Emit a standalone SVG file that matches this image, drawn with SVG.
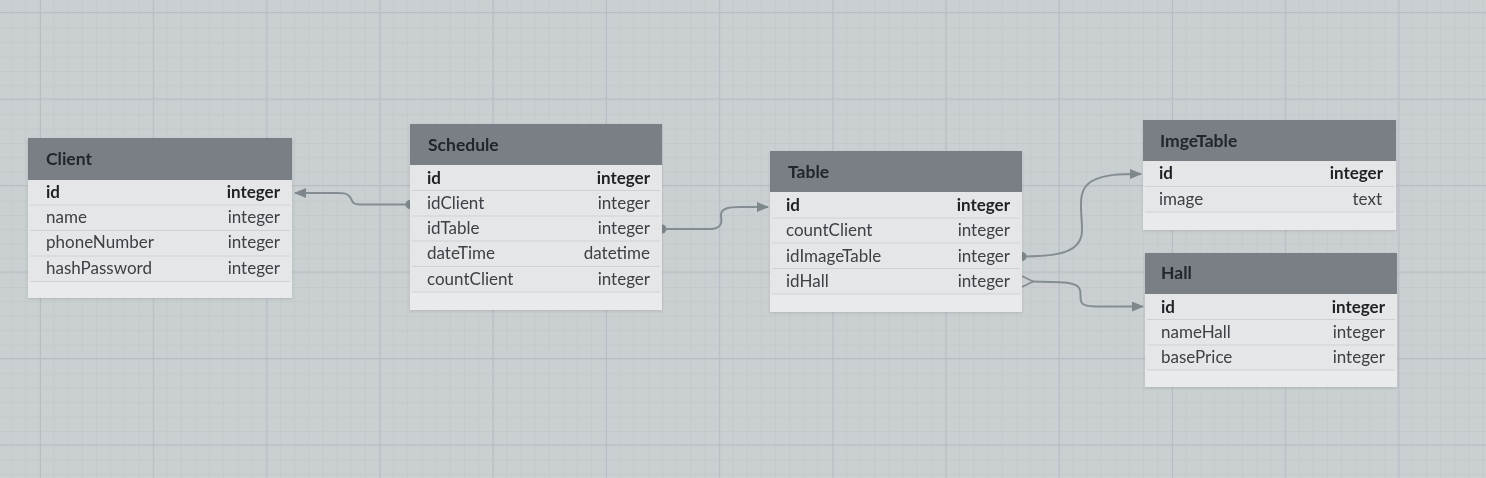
<svg xmlns="http://www.w3.org/2000/svg" width="1486" height="478" viewBox="0 0 1486 478">
<defs>
<pattern id="minor" width="14.15" height="14.4" patternUnits="userSpaceOnUse" x="12" y="0">
<path d="M14.15 0V14.4M0 14.4H14.15" fill="none" stroke="#bfc4c7" stroke-width="1"/>
</pattern>
<pattern id="major" width="113.2" height="86.5" patternUnits="userSpaceOnUse" x="40" y="12">
<path d="M0.5 0V86.5M0 0.5H113.2" fill="none" stroke="#b8bcc5" stroke-width="1"/>
</pattern>
<marker id="arr" markerWidth="12" markerHeight="10" refX="11" refY="5" orient="auto" markerUnits="userSpaceOnUse">
<path d="M0 0L12 5L0 10Z" fill="#7d878c"/>
</marker>
<filter id="sh" x="-5%" y="-5%" width="110%" height="115%">
<feDropShadow dx="0" dy="1" stdDeviation="1.5" flood-color="#000" flood-opacity="0.12"/>
</filter>
</defs>
<style>
.hdr{fill:#7a7f86}
.body{fill:#e5e6e7}
.foot{fill:#e9eaeb}
.sep{stroke:#cfd2d4;stroke-width:1.2}
.title{font-family:Lato,"Liberation Sans",sans-serif;font-weight:bold;font-size:17.5px;fill:#22262b}
.f{font-family:Lato,"Liberation Sans",sans-serif;font-size:17px;fill:#3d4146}
.pk{font-weight:bold;fill:#1f2226}
.t{text-anchor:end}
.ln{fill:none;stroke:#838d92;stroke-width:2}
</style>
<rect width="1486" height="478" fill="#cacfd1"/>
<rect width="1486" height="478" fill="url(#minor)"/>
<rect width="1486" height="478" fill="url(#major)"/>

<g id="connectors">
<path class="ln" d="M406 204.5H360C350 204.5 353 199 349 196C346 193 343 193 338 193H295" marker-end="url(#arr)"/>
<path d="M410 200A4.5 4.5 0 0 0 410 209Z" fill="#7d878c"/>
<path class="ln" d="M664 229H710C722 229 722 222 721 216C720 208 730 207 740 207H768" marker-end="url(#arr)"/>
<path d="M662 224.5A4.5 4.5 0 0 1 662 233.5Z" fill="#7d878c"/>
<path class="ln" d="M1024 256.5C1060 256 1082 252 1082 230C1082 210 1076 190 1092 181C1105 174 1120 174 1141 174" marker-end="url(#arr)"/>
<path d="M1022 252A4.5 4.5 0 0 1 1022 261Z" fill="#7d878c"/>
<path class="ln" d="M1032 281.5C1060 282 1078 281 1080 290C1082 300 1076 306 1095 306.5H1143" marker-end="url(#arr)"/>
<path d="M1022 276L1033 281.5L1022 287" fill="none" stroke="#838d92" stroke-width="1.8"/>
</g>

<g id="Client" filter="url(#sh)">
<rect x="28" y="138" width="264" height="160" class="body"/>
<rect x="28" y="138" width="264" height="42" class="hdr"/>
<rect x="28" y="281" width="264" height="17" class="foot"/>
<line x1="30" y1="205" x2="290" y2="205" class="sep"/>
<line x1="30" y1="230.5" x2="290" y2="230.5" class="sep"/>
<line x1="30" y1="256" x2="290" y2="256" class="sep"/>
<line x1="30" y1="281.5" x2="290" y2="281.5" class="sep"/>
<text x="46" y="165" class="title">Client</text>
<text x="46" y="198" class="f pk">id</text><text x="280" y="198" class="f pk t">integer</text>
<text x="46" y="223" class="f">name</text><text x="280" y="223" class="f t">integer</text>
<text x="46" y="248" class="f">phoneNumber</text><text x="280" y="248" class="f t">integer</text>
<text x="46" y="274" class="f">hashPassword</text><text x="280" y="274" class="f t">integer</text>
</g>

<g id="Schedule" filter="url(#sh)">
<rect x="410" y="124" width="252" height="186" class="body"/>
<rect x="410" y="124" width="252" height="41" class="hdr"/>
<rect x="410" y="292" width="252" height="18" class="foot"/>
<line x1="412" y1="190.5" x2="660" y2="190.5" class="sep"/>
<line x1="412" y1="216" x2="660" y2="216" class="sep"/>
<line x1="412" y1="241" x2="660" y2="241" class="sep"/>
<line x1="412" y1="266.5" x2="660" y2="266.5" class="sep"/>
<line x1="412" y1="292" x2="660" y2="292" class="sep"/>
<text x="428" y="151" class="title">Schedule</text>
<text x="427" y="184" class="f pk">id</text><text x="650" y="184" class="f pk t">integer</text>
<text x="427" y="209" class="f">idClient</text><text x="650" y="209" class="f t">integer</text>
<text x="427" y="234" class="f">idTable</text><text x="650" y="234" class="f t">integer</text>
<text x="427" y="259" class="f">dateTime</text><text x="650" y="259" class="f t">datetime</text>
<text x="427" y="285" class="f">countClient</text><text x="650" y="285" class="f t">integer</text>
</g>

<g id="Table" filter="url(#sh)">
<rect x="770" y="151" width="252" height="161" class="body"/>
<rect x="770" y="151" width="252" height="41" class="hdr"/>
<rect x="770" y="294" width="252" height="18" class="foot"/>
<line x1="772" y1="218" x2="1020" y2="218" class="sep"/>
<line x1="772" y1="243" x2="1020" y2="243" class="sep"/>
<line x1="772" y1="268.5" x2="1020" y2="268.5" class="sep"/>
<line x1="772" y1="294" x2="1020" y2="294" class="sep"/>
<text x="788" y="178" class="title">Table</text>
<text x="786" y="211" class="f pk">id</text><text x="1010" y="211" class="f pk t">integer</text>
<text x="786" y="236" class="f">countClient</text><text x="1010" y="236" class="f t">integer</text>
<text x="786" y="262" class="f">idImageTable</text><text x="1010" y="262" class="f t">integer</text>
<text x="786" y="287" class="f">idHall</text><text x="1010" y="287" class="f t">integer</text>
</g>

<g id="ImgeTable" filter="url(#sh)">
<rect x="1143" y="120" width="253" height="110" class="body"/>
<rect x="1143" y="120" width="253" height="41" class="hdr"/>
<rect x="1143" y="212" width="253" height="18" class="foot"/>
<line x1="1145" y1="186.5" x2="1394" y2="186.5" class="sep"/>
<line x1="1145" y1="212" x2="1394" y2="212" class="sep"/>
<text x="1160" y="147" class="title">ImgeTable</text>
<text x="1159" y="179" class="f pk">id</text><text x="1383" y="179" class="f pk t">integer</text>
<text x="1159" y="205" class="f">image</text><text x="1382" y="205" class="f t">text</text>
</g>

<g id="Hall" filter="url(#sh)">
<rect x="1145" y="253" width="252" height="134" class="body"/>
<rect x="1145" y="253" width="252" height="41" class="hdr"/>
<rect x="1145" y="370" width="252" height="17" class="foot"/>
<line x1="1147" y1="319.5" x2="1395" y2="319.5" class="sep"/>
<line x1="1147" y1="345" x2="1395" y2="345" class="sep"/>
<line x1="1147" y1="370" x2="1395" y2="370" class="sep"/>
<text x="1161" y="279" class="title">Hall</text>
<text x="1161" y="313" class="f pk">id</text><text x="1385" y="313" class="f pk t">integer</text>
<text x="1161" y="338" class="f">nameHall</text><text x="1385" y="338" class="f t">integer</text>
<text x="1161" y="363" class="f">basePrice</text><text x="1385" y="363" class="f t">integer</text>
</g>
</svg>
